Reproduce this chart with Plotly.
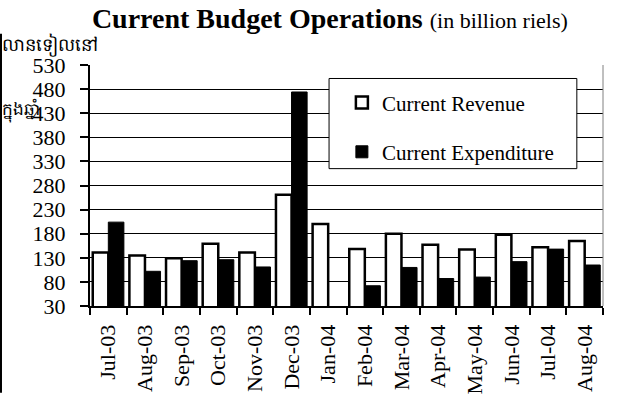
import plotly.graph_objects as go

months = ["Jul-03", "Aug-03", "Sep-03", "Oct-03", "Nov-03", "Dec-03", "Jan-04",
          "Feb-04", "Mar-04", "Apr-04", "May-04", "Jun-04", "Jul-04", "Aug-04"]
revenue = [141, 135, 129, 159, 141, 261, 200, 148, 180, 157, 147, 178, 152, 165]
expenditure = [204, 102, 124, 126, 111, 474, None, 72, 110, 87, 90, 122, 148, 115]
y_ticks = [30, 80, 130, 180, 230, 280, 330, 380, 430, 480, 530]

FONT = "Liberation Serif"

fig = go.Figure()
fig.add_trace(go.Bar(
    x=months, y=revenue, name="Current Revenue", legendgroup="a",
    marker=dict(color="white", line=dict(color="black", width=2.5)),
))
fig.add_trace(go.Bar(
    x=months, y=expenditure, name="Current Expenditure", legendgroup="b",
    marker=dict(color="black", line=dict(color="black", width=1)),
))

fig.update_layout(
    width=620, height=406,
    margin=dict(l=90, r=17, t=65, b=90),
    paper_bgcolor="white", plot_bgcolor="white",
    barmode="group", bargap=0.15, bargroupgap=0,
    font=dict(family=FONT, color="black", size=21),
    showlegend=True,
    title=dict(
        text="<b>Current Budget Operations</b> <span style='font-size:22px'>(in billion riels)</span>",
        x=0.532, xanchor="center", xref="container",
        y=0.955, yanchor="middle", yref="container",
        font=dict(family=FONT, size=28, color="black"),
    ),
    legend=dict(
        x=0.491, y=0.928, xanchor="left", yanchor="top",
        bgcolor="rgba(0,0,0,0)", borderwidth=0,
        font=dict(family=FONT, size=21, color="black"),
        tracegroupgap=19, traceorder="grouped",
    ),
    xaxis=dict(
        type="category", tickangle=-90, tickson="boundaries",
        ticks="outside", ticklen=7, tickwidth=2, tickcolor="black",
        showline=True, linecolor="black", linewidth=2,
        showgrid=False, tickfont=dict(family=FONT, size=22),
        ticklabelstandoff=8,
    ),
    yaxis=dict(
        range=[30, 530], tickvals=y_ticks, ticks="outside", ticklen=8,
        tickwidth=2, tickcolor="black",
        showline=True, linecolor="black", linewidth=2,
        showgrid=True, gridcolor="black", gridwidth=1,
        tickfont=dict(family=FONT, size=22), zeroline=False,
        ticklabelstandoff=10,
    ),
    shapes=[
        # right border of plot area
        dict(type="line", xref="paper", yref="paper", x0=1, x1=1, y0=0, y1=1,
             line=dict(color="#808080", width=1)),
        # legend box
        dict(type="rect", xref="paper", yref="paper", x0=0.466, x1=0.949,
             y0=0.570, y1=0.944, fillcolor="white",
             line=dict(color="black", width=1), layer="above"),
        # left edge line
        dict(type="line", xref="paper", yref="paper", x0=-0.1735, x1=-0.1735,
             y0=-0.36, y1=1.13, line=dict(color="black", width=2)),
    ],
    annotations=[
        dict(text="លានទៀលនៅ", xref="paper", yref="paper", x=-0.1754, y=1.084,
             xanchor="left", yanchor="middle", showarrow=False,
             font=dict(family=FONT, size=18, color="black")),
        dict(text="ក្នុងឆ្នាំ", xref="paper", yref="paper", x=-0.1754, y=0.813,
             xanchor="left", yanchor="middle", showarrow=False,
             font=dict(family=FONT, size=17, color="black")),
    ],
)

fig.write_html("out.html", config={"displayModeBar": False},
               post_script="document.body.style.margin='0';")
